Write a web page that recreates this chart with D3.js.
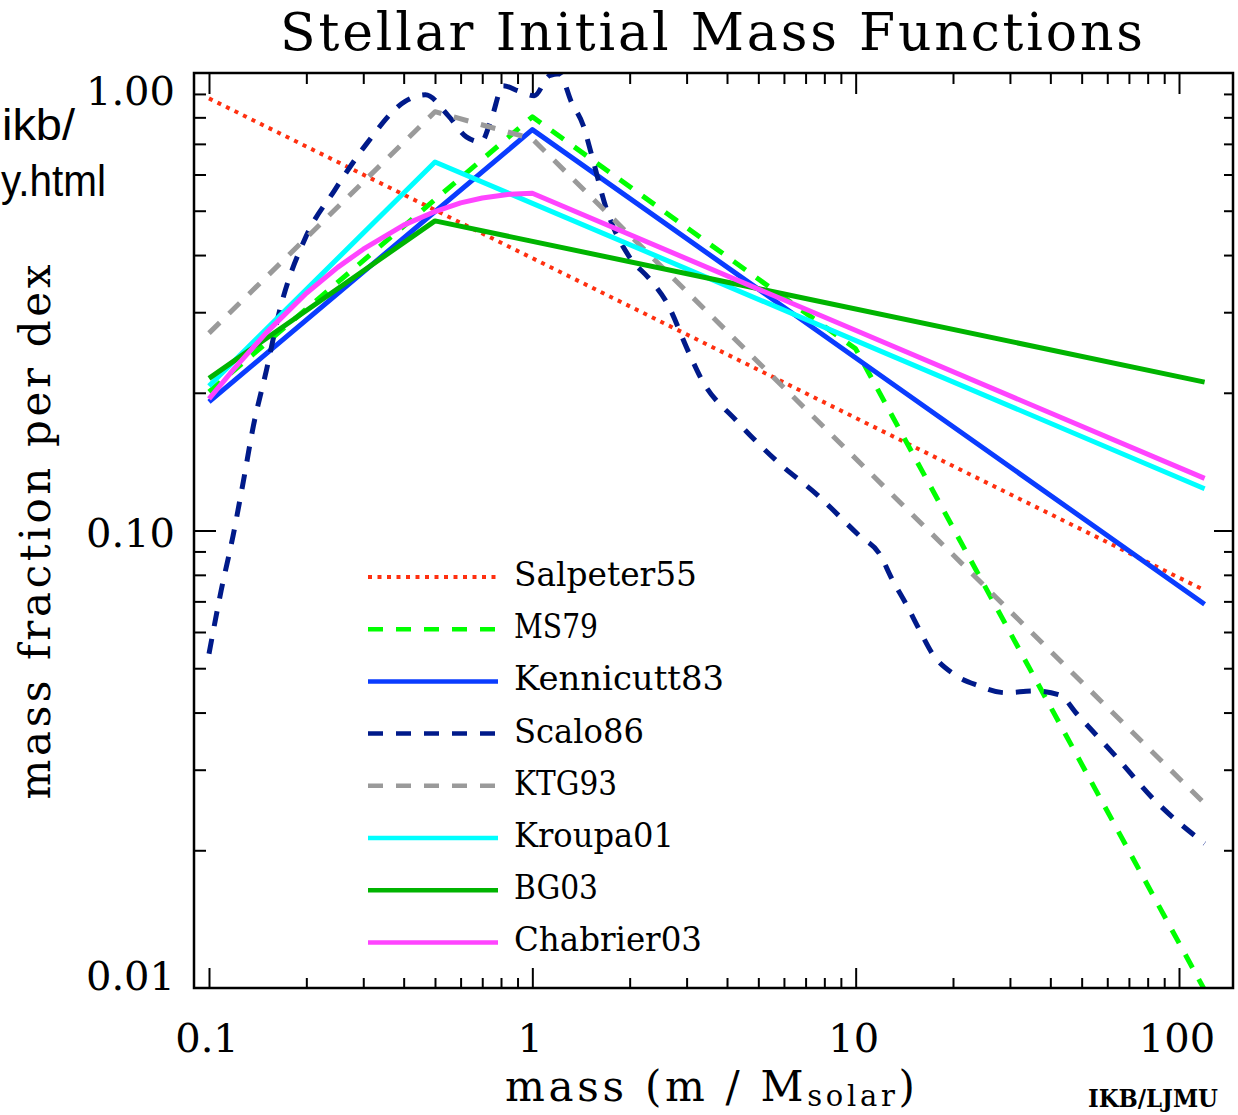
<!DOCTYPE html>
<html>
<head>
<meta charset="utf-8">
<script src="https://cdn.jsdelivr.net/npm/d3@7"></script>
<style>
  html, body { margin: 0; padding: 0; background: #fff; }
  svg { display: block; }
  text { font-family: "DejaVu Serif", "Liberation Serif", serif; fill: #000; }
</style>
</head>
<body>
<svg id="chart" width="1238" height="1115"></svg>
<script>
// ---------------- DATA ----------------
const seriesNames = ["Salpeter55", "MS79", "Kennicutt83", "Scalo86", "KTG93", "Kroupa01", "BG03", "Chabrier03"];

const salpeterM = [0.1, 120];
const salpeterV = [0.88, 0.074];

const ms79M = [0.1, 1, 10, 120];
const ms79V = [0.201, 0.802, 0.2495, 0.0099];

const kennicuttM = [0.1, 1, 120];
const kennicuttV = [0.191, 0.752, 0.069];

const scaloM = [0.1, 0.109, 0.1187, 0.1278, 0.1372, 0.1504, 0.165, 0.2, 0.244, 0.307, 0.402, 0.467,
                0.55, 0.625, 0.695, 0.747, 0.813, 0.905, 1.014, 1.128, 1.212, 1.32, 1.438, 1.522,
                1.694, 1.995, 2.30, 2.597, 3.06, 3.33, 4.28, 5.69, 7.67, 10.27, 11.84, 12.99, 14.25,
                15.74, 17.27, 20.05, 23.96, 29.04, 35.7, 42.7, 48.5, 64.0, 83.3, 120];
const scaloV = [0.0538, 0.0738, 0.0974, 0.1284, 0.1694, 0.2235, 0.3006, 0.4406, 0.5528, 0.700, 0.865, 0.896,
                0.806, 0.725, 0.707, 0.794, 0.938, 0.914, 0.892, 0.986, 0.996, 0.865, 0.767, 0.666,
                0.505, 0.3965, 0.355, 0.316, 0.2433, 0.2146, 0.1737, 0.142, 0.119, 0.0974, 0.089, 0.078, 0.0695,
                0.0607, 0.0538, 0.0486, 0.0458, 0.0442, 0.0446, 0.0437, 0.0396, 0.032, 0.0259, 0.0207];

const ktgM = [0.1, 0.5, 1, 120];
const ktgV = [0.27, 0.823, 0.718, 0.0253];

const kroupaM = [0.1, 0.5, 120];
const kroupaV = [0.207, 0.639, 0.1234];

const bgM = [0.1, 0.5, 120];
const bgV = [0.215, 0.475, 0.211];

const chabrierM = [0.1, 0.12, 0.15, 0.2, 0.25, 0.3, 0.4, 0.5, 0.6, 0.7, 0.85, 1, 120];
const chabrierV = [0.194, 0.2265, 0.27, 0.33, 0.376, 0.412, 0.465, 0.498, 0.520, 0.533, 0.543, 0.546, 0.130];

const xTickLabels = ["0.1", "1", "10", "100"];
const xTickValues = [0.1, 1, 10, 100];
const yTickLabels = ["0.01", "0.10", "1.00"];
const yTickValues = [0.01, 0.1, 1];

// ---------------- STYLE ----------------
const seriesColors = ["#ff3010", "#00ff00", "#0a3cff", "#001a8a", "#9a9a9a", "#00ffff", "#00b400", "#ff44ff"];
const seriesDash = ["4,5.5", "15,13", null, "15,13", "15,13", null, null, null];

const seriesData = [
  [salpeterM, salpeterV], [ms79M, ms79V], [kennicuttM, kennicuttV], [scaloM, scaloV],
  [ktgM, ktgV], [kroupaM, kroupaV], [bgM, bgV], [chabrierM, chabrierV]
];
const seriesCurves = [d3.curveLinear, d3.curveLinear, d3.curveLinear, d3.curveMonotoneX,
                      d3.curveLinear, d3.curveLinear, d3.curveLinear, d3.curveLinear];

// ---------------- LAYOUT ----------------
const frame = { left: 194, right: 1233, top: 73, bottom: 988 };
const svg = d3.select("#chart");

const x = d3.scaleLog().domain([0.1, 100]).range([209, 1179]);
const y = d3.scaleLog().domain([0.01, 1]).range([988, 73]);

const xMinor = [];
for (const dec of [0.1, 1, 10, 100]) for (let k = 2; k <= 9; k++) {
  const v = dec * k; const px = x(v);
  if (px > frame.left + 2 && px < frame.right - 2) xMinor.push(v);
}
const yMinor = [];
for (const dec of [0.01, 0.1]) for (let k = 2; k <= 9; k++) yMinor.push(dec * k);

function styleAxis(g) {
  g.select(".domain").remove();
  g.selectAll(".tick line").attr("stroke", "#000").attr("stroke-width", 2);
  g.selectAll(".tick text").remove();
}

svg.append("g").attr("transform", `translate(0,${frame.bottom})`)
  .call(d3.axisBottom(x).tickValues(xMinor).tickSize(-10).tickFormat("")).call(styleAxis);
svg.append("g").attr("transform", `translate(0,${frame.bottom})`)
  .call(d3.axisBottom(x).tickValues(xTickValues).tickSize(-20).tickFormat("")).call(styleAxis);
svg.append("g").attr("transform", `translate(0,${frame.top})`)
  .call(d3.axisTop(x).tickValues(xMinor).tickSize(-11).tickFormat("")).call(styleAxis);
svg.append("g").attr("transform", `translate(0,${frame.top})`)
  .call(d3.axisTop(x).tickValues(xTickValues).tickSize(-21).tickFormat("")).call(styleAxis);
svg.append("g").attr("transform", `translate(${frame.left},0)`)
  .call(d3.axisLeft(y).tickValues(yMinor).tickSize(-12).tickFormat("")).call(styleAxis);
svg.append("g").attr("transform", `translate(${frame.left},0)`)
  .call(d3.axisLeft(y).tickValues(yTickValues.filter(v => v > 0.01 && v < 1)).tickSize(-22).tickFormat("")).call(styleAxis);
svg.append("g").attr("transform", `translate(${frame.right},0)`)
  .call(d3.axisRight(y).tickValues(yMinor).tickSize(-9).tickFormat("")).call(styleAxis);
svg.append("g").attr("transform", `translate(${frame.right},0)`)
  .call(d3.axisRight(y).tickValues(yTickValues.filter(v => v > 0.01 && v < 1)).tickSize(-19).tickFormat("")).call(styleAxis);

svg.append("clipPath").attr("id", "plotclip").append("rect")
  .attr("x", frame.left).attr("y", frame.top)
  .attr("width", frame.right - frame.left).attr("height", frame.bottom - frame.top);

const plot = svg.append("g").attr("clip-path", "url(#plotclip)");

seriesData.forEach(([ms, vs], i) => {
  const pts = ms.map((m, j) => [m, vs[j]]);
  const line = d3.line().x(d => x(d[0])).y(d => y(d[1])).curve(seriesCurves[i]);
  plot.append("path")
    .attr("d", line(pts))
    .attr("fill", "none")
    .attr("stroke", seriesColors[i])
    .attr("stroke-width", i === 0 ? 4 : 5)
    .attr("stroke-dasharray", seriesDash[i])
    .attr("stroke-linejoin", "round");
});

svg.append("rect")
  .attr("x", frame.left).attr("y", frame.top)
  .attr("width", frame.right - frame.left).attr("height", frame.bottom - frame.top)
  .attr("fill", "none").attr("stroke", "#000").attr("stroke-width", 2.5);

svg.selectAll(".xlab").data(xTickValues).join("text")
  .attr("x", d => x(d) - 2).attr("y", 1052)
  .attr("text-anchor", "middle").attr("font-size", 40)
  .text((d, i) => xTickLabels[i]);

const yLabelBaselines = [990, y(0.1) + 16, frame.top + 32];
svg.selectAll(".ylab").data(yTickValues).join("text")
  .attr("x", 175).attr("y", (d, i) => yLabelBaselines[i])
  .attr("text-anchor", "end").attr("font-size", 40)
  .text((d, i) => yTickLabels[i]);

svg.append("text").attr("x", 280).attr("y", 50)
  .attr("font-size", 52).attr("font-weight", 300)
  .attr("textLength", 863).attr("lengthAdjust", "spacing")
  .text("Stellar Initial Mass Functions");

svg.append("text")
  .attr("transform", "translate(50,532) rotate(-90)")
  .attr("text-anchor", "middle").attr("font-size", 42)
  .attr("textLength", 535).attr("lengthAdjust", "spacing")
  .text("mass fraction per dex");

const xl = svg.append("text").attr("x", 505).attr("y", 1101).attr("font-size", 42)
  .attr("textLength", 410).attr("lengthAdjust", "spacing");
xl.append("tspan").text("mass (m / M");
xl.append("tspan").attr("font-size", 29).attr("dy", 5).text("solar");
xl.append("tspan").attr("dy", -5).text(")");

svg.append("text").attr("x", 1088).attr("y", 1107)
  .attr("font-size", 25).attr("font-weight", "bold")
  .attr("textLength", 130).attr("lengthAdjust", "spacingAndGlyphs")
  .text("IKB/LJMU");

svg.append("text").attr("x", 2).attr("y", 140)
  .style("font-family", "'Liberation Sans', Arial, sans-serif").attr("font-size", 44)
  .attr("textLength", 73).attr("lengthAdjust", "spacingAndGlyphs")
  .text("ikb/");
svg.append("text").attr("x", 1).attr("y", 196)
  .style("font-family", "'Liberation Sans', Arial, sans-serif").attr("font-size", 44)
  .attr("textLength", 105).attr("lengthAdjust", "spacingAndGlyphs")
  .text("y.html");

const legendY0 = 577, legendDy = 52.2;
const legendWidths = [183, 84, 210, 130, 103, 160, 84, 188];
const leg = svg.append("g");
seriesNames.forEach((name, i) => {
  const yy = legendY0 + i * legendDy;
  leg.append("line")
    .attr("x1", 368).attr("x2", 498).attr("y1", yy).attr("y2", yy)
    .attr("stroke", seriesColors[i]).attr("stroke-width", i === 0 ? 4 : 4.5)
    .attr("stroke-dasharray", seriesDash[i]);
  leg.append("text")
    .attr("x", 514).attr("y", yy + 9)
    .attr("font-size", 33)
    .attr("textLength", legendWidths[i]).attr("lengthAdjust", "spacingAndGlyphs")
    .text(name);
});
</script>
</body>
</html>
